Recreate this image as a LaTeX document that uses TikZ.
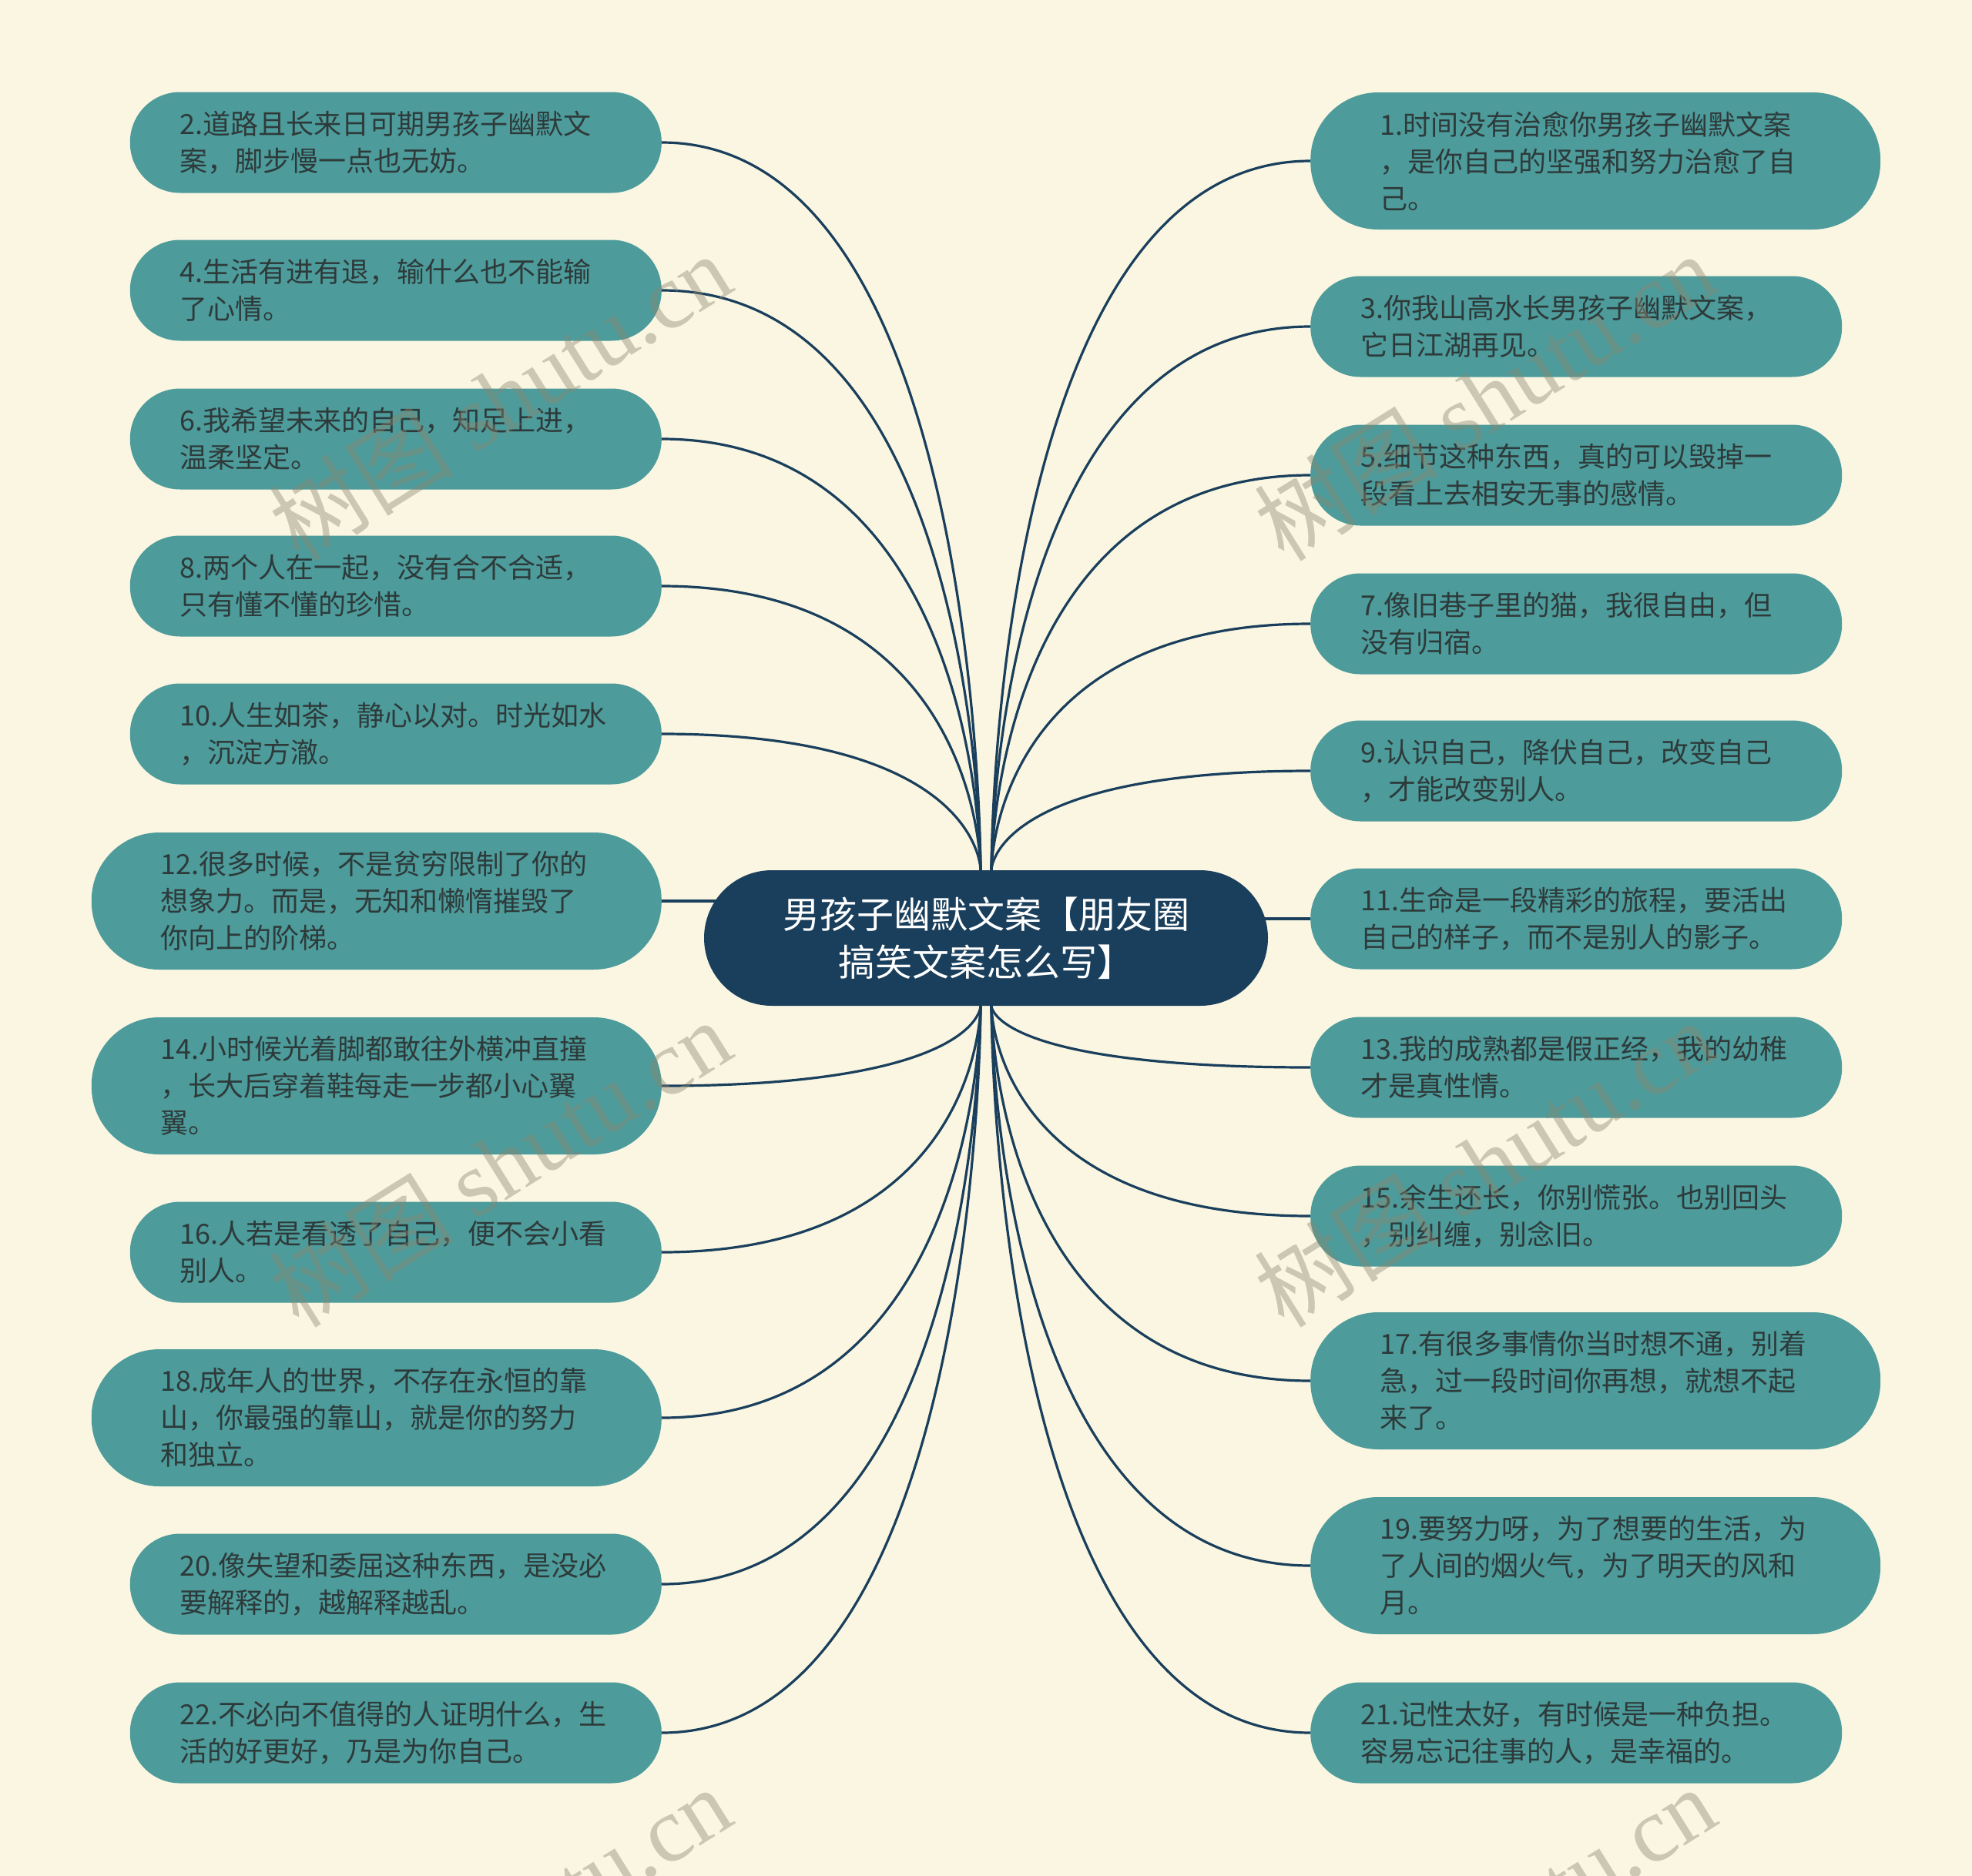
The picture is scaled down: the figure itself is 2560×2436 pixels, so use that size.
\documentclass[tikz,border=0pt]{standalone}
\usepackage{fontspec}
\setmainfont{Noto Sans CJK SC}
\newfontfamily\wmserif{Liberation Serif}
\usetikzlibrary{backgrounds}
\definecolor{bgc}{RGB}{250,246,226}
\definecolor{leaffill}{RGB}{77,155,155}
\definecolor{navy}{RGB}{26,63,92}
\definecolor{txt}{RGB}{46,58,58}
\definecolor{wmc}{RGB}{138,134,112}
\begin{document}
\begin{tikzpicture}[x=1pt,y=-1pt,
  leaf/.style={fill=leaffill, text=txt, font=\fontsize{36}{48}\selectfont, align=left, inner ysep=0pt},
  twoline/.style={leaf, minimum height=131pt, inner xsep=65pt, text width=560pt, rounded corners=65pt},
  threeline/.style={leaf, minimum height=178pt, inner xsep=90pt, text width=560pt, rounded corners=88pt},
  rootnode/.style={fill=navy, text=white, font=\fontsize{48}{62}\selectfont, align=center,
    minimum width=732pt, minimum height=176pt, inner sep=0pt, rounded corners=88pt},
  conn/.style={draw=navy, line width=3.2pt},
  wmark/.style={text=wmc, text opacity=0.42, font=\fontsize{120}{120}\selectfont, rotate=32}]
\useasboundingbox (0,0) rectangle (2560,2436);

% root
\node[rootnode] (root) at (1280,1218) {男孩子幽默文案【朋友圈\\搞笑文案怎么写】};
\coordinate (rtl) at ([xshift=-7pt]root.north);
\coordinate (rtr) at ([xshift=7pt]root.north);
\coordinate (rbl) at ([xshift=-7pt]root.south);
\coordinate (rbr) at ([xshift=7pt]root.south);

% left nodes
\node[twoline, anchor=east] (n2) at (859,185) {2.道路且长来日可期男孩子幽默文\\案，脚步慢一点也无妨。};
\node[twoline, anchor=east] (n4) at (859,377) {4.生活有进有退，输什么也不能输\\了心情。};
\node[twoline, anchor=east] (n6) at (859,570) {6.我希望未来的自己，知足上进，\\温柔坚定。};
\node[twoline, anchor=east] (n8) at (859,761) {8.两个人在一起，没有合不合适，\\只有懂不懂的珍惜。};
\node[twoline, anchor=east] (n10) at (859,953) {10.人生如茶，静心以对。时光如水\\，沉淀方澈。};
\node[threeline, anchor=east] (n12) at (859,1170) {12.很多时候，不是贫穷限制了你的\\想象力。而是，无知和懒惰摧毁了\\你向上的阶梯。};
\node[threeline, anchor=east] (n14) at (859,1410) {14.小时候光着脚都敢往外横冲直撞\\，长大后穿着鞋每走一步都小心翼\\翼。};
\node[twoline, anchor=east] (n16) at (859,1626) {16.人若是看透了自己，便不会小看\\别人。};
\node[threeline, anchor=east] (n18) at (859,1841) {18.成年人的世界，不存在永恒的靠\\山，你最强的靠山，就是你的努力\\和独立。};
\node[twoline, anchor=east] (n20) at (859,2057) {20.像失望和委屈这种东西，是没必\\要解释的，越解释越乱。};
\node[twoline, anchor=east] (n22) at (859,2250) {22.不必向不值得的人证明什么，生\\活的好更好，乃是为你自己。};

% right nodes
\node[threeline, anchor=west] (n1) at (1701,209) {1.时间没有治愈你男孩子幽默文案\\，是你自己的坚强和努力治愈了自\\己。};
\node[twoline, anchor=west] (n3) at (1701,424) {3.你我山高水长男孩子幽默文案，\\它日江湖再见。};
\node[twoline, anchor=west] (n5) at (1701,617) {5.细节这种东西，真的可以毁掉一\\段看上去相安无事的感情。};
\node[twoline, anchor=west] (n7) at (1701,810) {7.像旧巷子里的猫，我很自由，但\\没有归宿。};
\node[twoline, anchor=west] (n9) at (1701,1001) {9.认识自己，降伏自己，改变自己\\，才能改变别人。};
\node[twoline, anchor=west] (n11) at (1701,1193) {11.生命是一段精彩的旅程，要活出\\自己的样子，而不是别人的影子。};
\node[twoline, anchor=west] (n13) at (1701,1386) {13.我的成熟都是假正经，我的幼稚\\才是真性情。};
\node[twoline, anchor=west] (n15) at (1701,1579) {15.余生还长，你别慌张。也别回头\\，别纠缠，别念旧。};
\node[threeline, anchor=west] (n17) at (1701,1793) {17.有很多事情你当时想不通，别着\\急，过一段时间你再想，就想不起\\来了。};
\node[threeline, anchor=west] (n19) at (1701,2033) {19.要努力呀，为了想要的生活，为\\了人间的烟火气，为了明天的风和\\月。};
\node[twoline, anchor=west] (n21) at (1701,2250) {21.记性太好，有时候是一种负担。\\容易忘记往事的人，是幸福的。};

\begin{pgfonlayer}{background}
\fill[bgc] (0,0) rectangle (2560,2436);
% left upper
\foreach \n in {n2,n4,n6,n8,n10}
  \draw[conn] (\n.east) .. controls (\n.east -| rtl) and (rtl) .. (rtl);
% left lower
\foreach \n in {n14,n16,n18,n20,n22}
  \draw[conn] (\n.east) .. controls (\n.east -| rbl) and (rbl) .. (rbl);
% right upper
\foreach \n in {n1,n3,n5,n7,n9}
  \draw[conn] (\n.west) .. controls (\n.west -| rtr) and (rtr) .. (rtr);
% right lower
\foreach \n in {n13,n15,n17,n19,n21}
  \draw[conn] (\n.west) .. controls (\n.west -| rbr) and (rbr) .. (rbr);
% straight ones
\draw[conn] (n12.east) -- (n12.east -| root.center);
\draw[conn] (n11.west) -- (n11.west -| root.center);
\end{pgfonlayer}

% watermarks
\begin{scope}
\clip (0,0) rectangle (2560,2436);
\foreach \x/\y [count=\i] in {649/515, 1927/515, 649/1510, 1927/1510, 649/2506, 1927/2506}
  \node[wmark] (wm\i) at (\x,\y) {树图 {\wmserif shutu.cn}};
\end{scope}
\end{tikzpicture}
\end{document}
